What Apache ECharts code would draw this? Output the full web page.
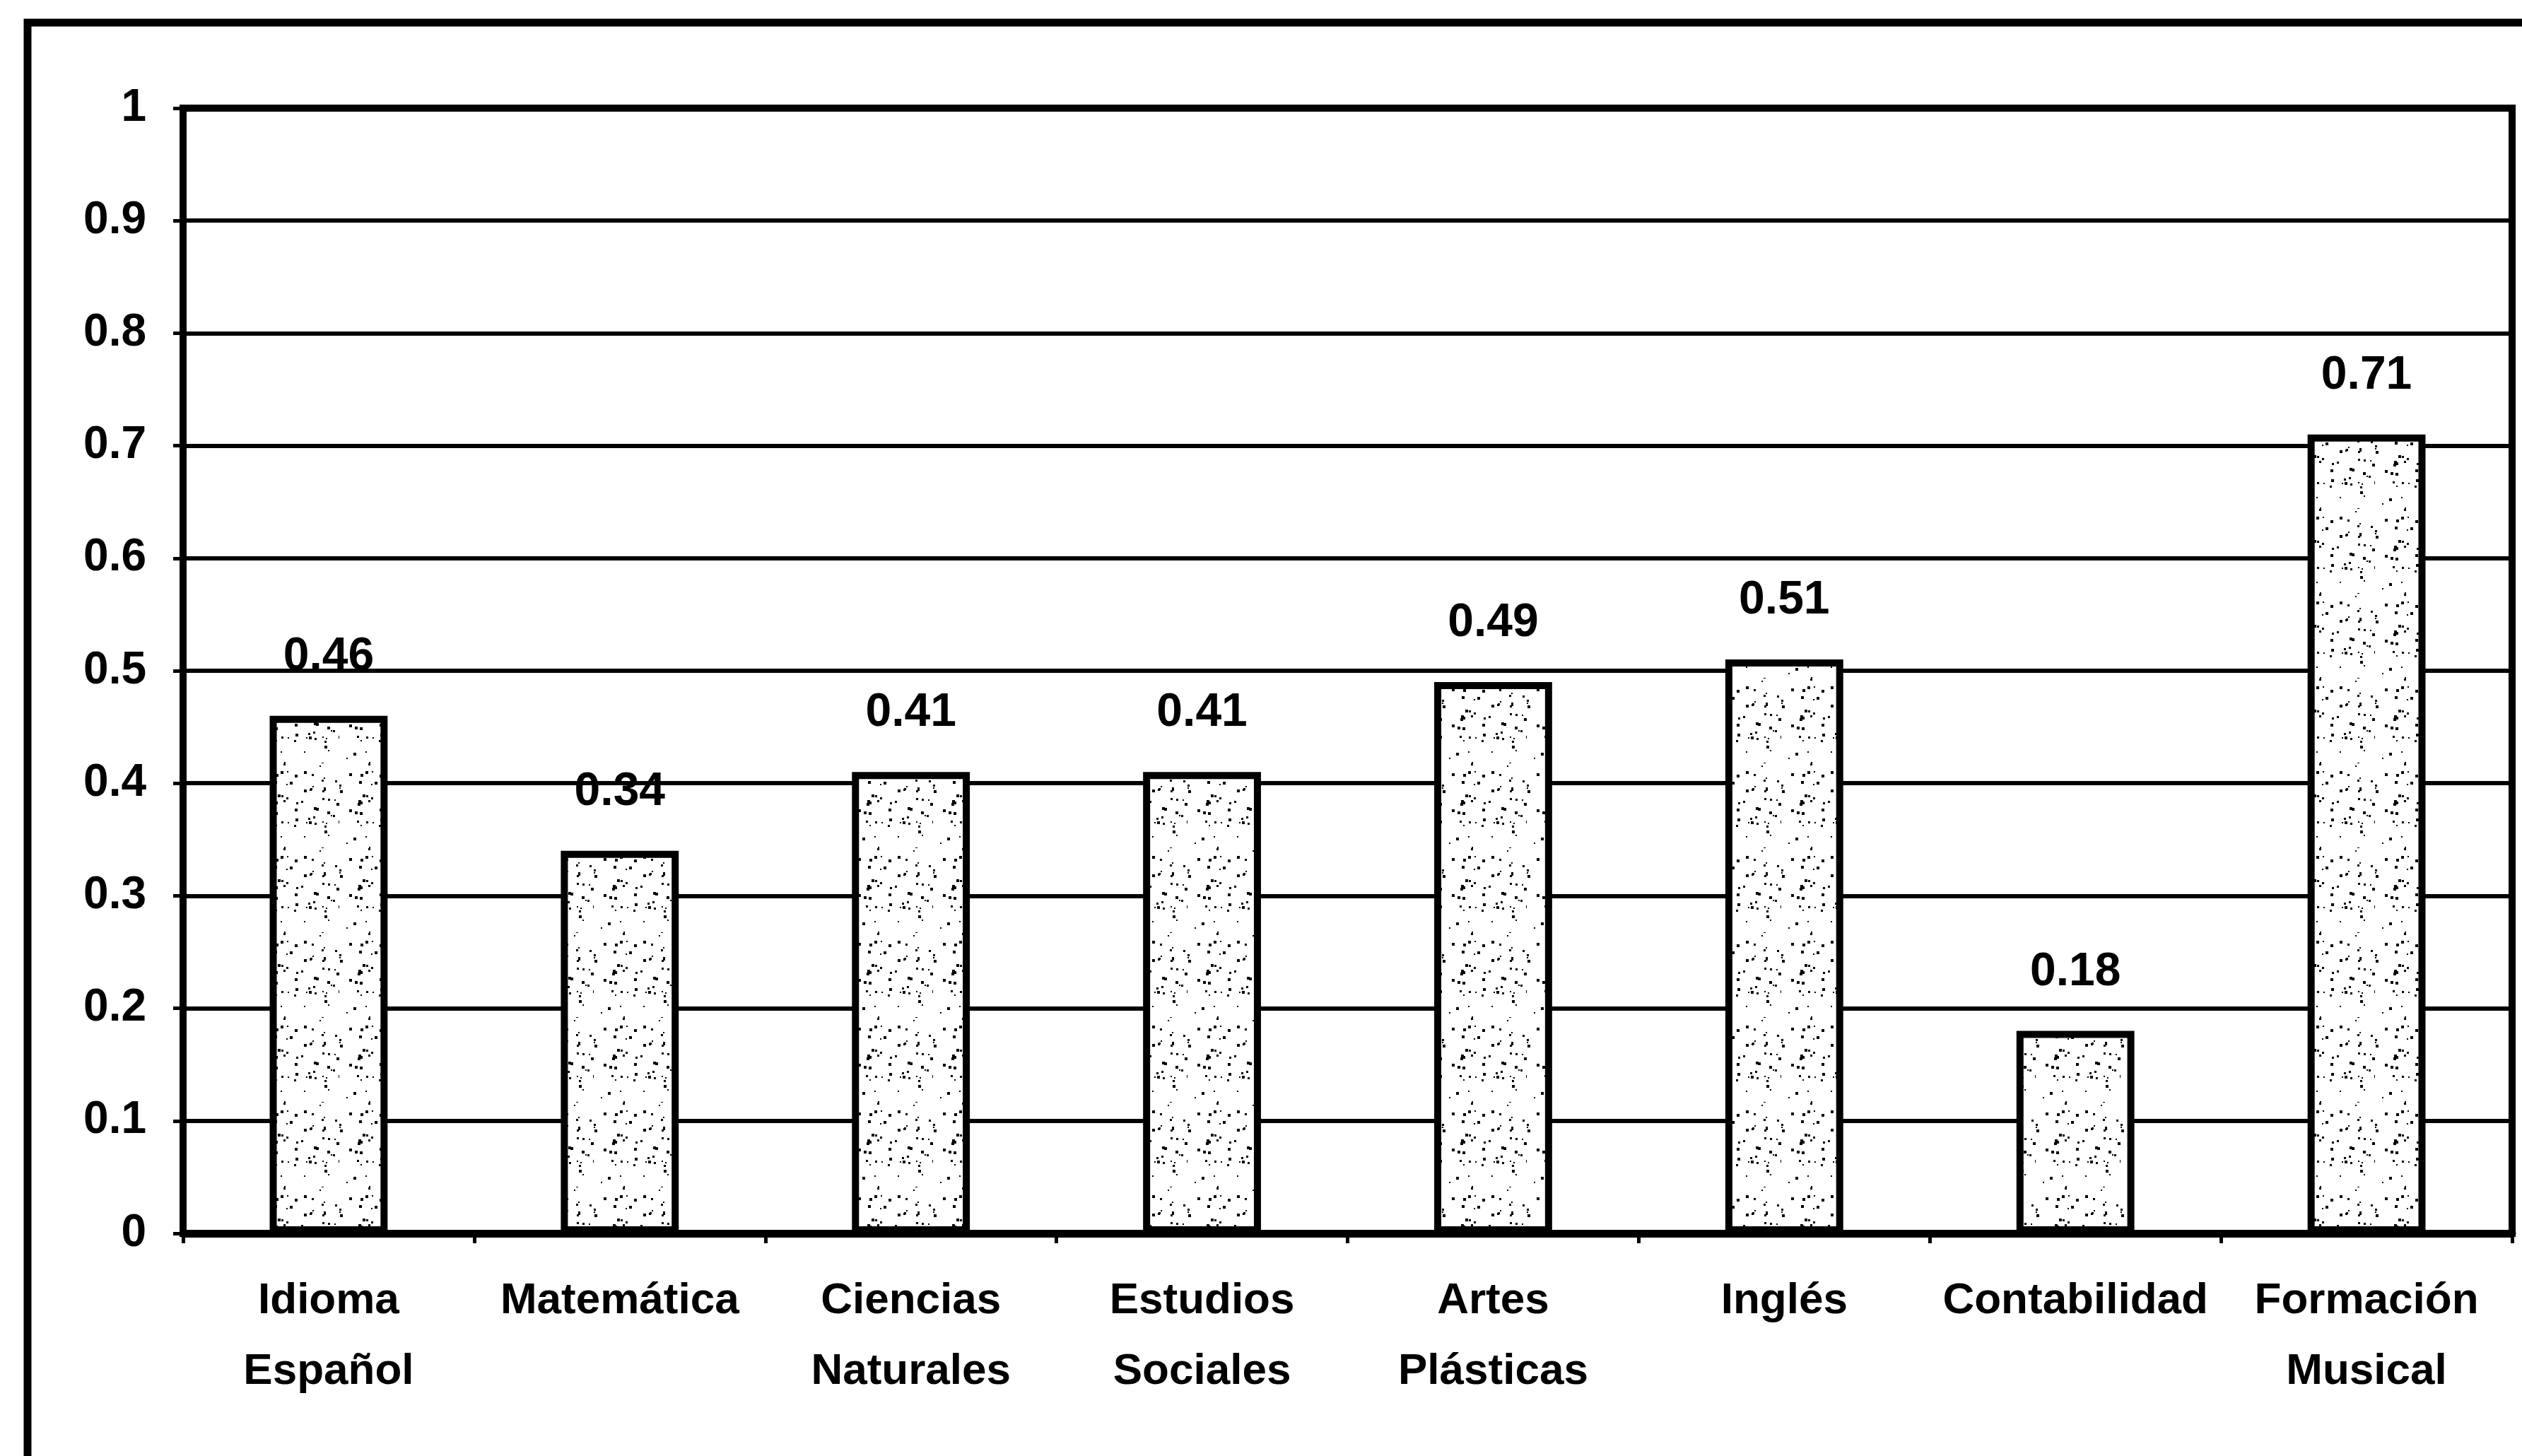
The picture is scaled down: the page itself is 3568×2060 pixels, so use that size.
<!DOCTYPE html>
<html>
<head>
<meta charset="utf-8">
<script src="https://cdn.jsdelivr.net/npm/echarts@6/dist/echarts.min.js"></script>
<style>
  html, body { margin: 0; padding: 0; background: #fff; }
  #chart { width: 3568px; height: 2060px; }
</style>
</head>
<body>
<div id="chart"></div>
<script>
// ---- Data ----
const categories = [
  'Idioma\nEspañol',
  'Matemática',
  'Ciencias\nNaturales',
  'Estudios\nSociales',
  'Artes\nPlásticas',
  'Inglés',
  'Contabilidad',
  'Formación\nMusical'
];
const values = [0.46, 0.34, 0.41, 0.41, 0.49, 0.51, 0.18, 0.71];
const yTicks = { min: 0, max: 1, interval: 0.1 };

// ---- Stipple texture (deterministic, styling only) ----
function makeStipple() {
  const c = document.createElement('canvas');
  c.width = 120; c.height = 120;
  const g = c.getContext('2d');
  g.fillStyle = '#ffffff';
  g.fillRect(0, 0, 120, 120);
  g.fillStyle = '#000000';
  let s = 12345;
  function next() { s = (s * 1103515245 + 12345) % 2147483648; return s / 2147483648; }
  for (let i = 0; i < 70; i++) {
    const x = Math.floor(next() * 120);
    const y = Math.floor(next() * 120);
    const r = 2 + Math.floor(next() * 3);
    g.fillRect(x, y, r, r);
  }
  return c;
}
const stipple = makeStipple();

const FONT = "'Liberation Sans', Arial, Helvetica, sans-serif";

const chart = echarts.init(document.getElementById('chart'), null, { renderer: 'canvas' });
chart.setOption({
  backgroundColor: '#ffffff',
  animation: false,
  graphic: [{
    type: 'rect',
    silent: true,
    shape: { x: 39, y: 32, width: 3700, height: 2200 },
    style: { fill: 'none', stroke: '#000', lineWidth: 11 }
  }],
  grid: {
    left: 259, right: 14, top: 153, bottom: 315,
    show: true, borderColor: '#000', borderWidth: 10, backgroundColor: 'transparent'
  },
  xAxis: {
    type: 'category',
    data: categories,
    axisLine: { show: true, lineStyle: { color: '#000', width: 11 } },
    axisTick: { show: true, length: 14, lineStyle: { color: '#000', width: 5 } },
    axisLabel: {
      color: '#000', fontFamily: FONT, fontWeight: 'bold', fontSize: 62,
      lineHeight: 100, margin: 46, interval: 0
    },
    splitLine: { show: false }
  },
  yAxis: {
    type: 'value',
    min: yTicks.min, max: yTicks.max, interval: yTicks.interval,
    axisLine: { show: true, lineStyle: { color: '#000', width: 10 } },
    axisTick: { show: true, length: 14, lineStyle: { color: '#000', width: 5 } },
    axisLabel: {
      color: '#000', fontFamily: FONT, fontWeight: 'bold', fontSize: 64, margin: 52,
      formatter: function (v) { return String(Math.round(v * 10) / 10); }
    },
    splitLine: { show: true, lineStyle: { color: '#000', width: 6 } }
  },
  series: [{
    type: 'bar',
    data: values,
    barWidth: '40.5%',
    itemStyle: {
      color: { image: stipple, repeat: 'repeat' },
      borderColor: '#000',
      borderWidth: 10
    },
    label: {
      show: true, position: 'top', distance: 50,
      color: '#000', fontFamily: FONT, fontWeight: 'bold', fontSize: 66,
      formatter: function (p) { return p.value.toFixed(2); }
    }
  }]
});
</script>
</body>
</html>
